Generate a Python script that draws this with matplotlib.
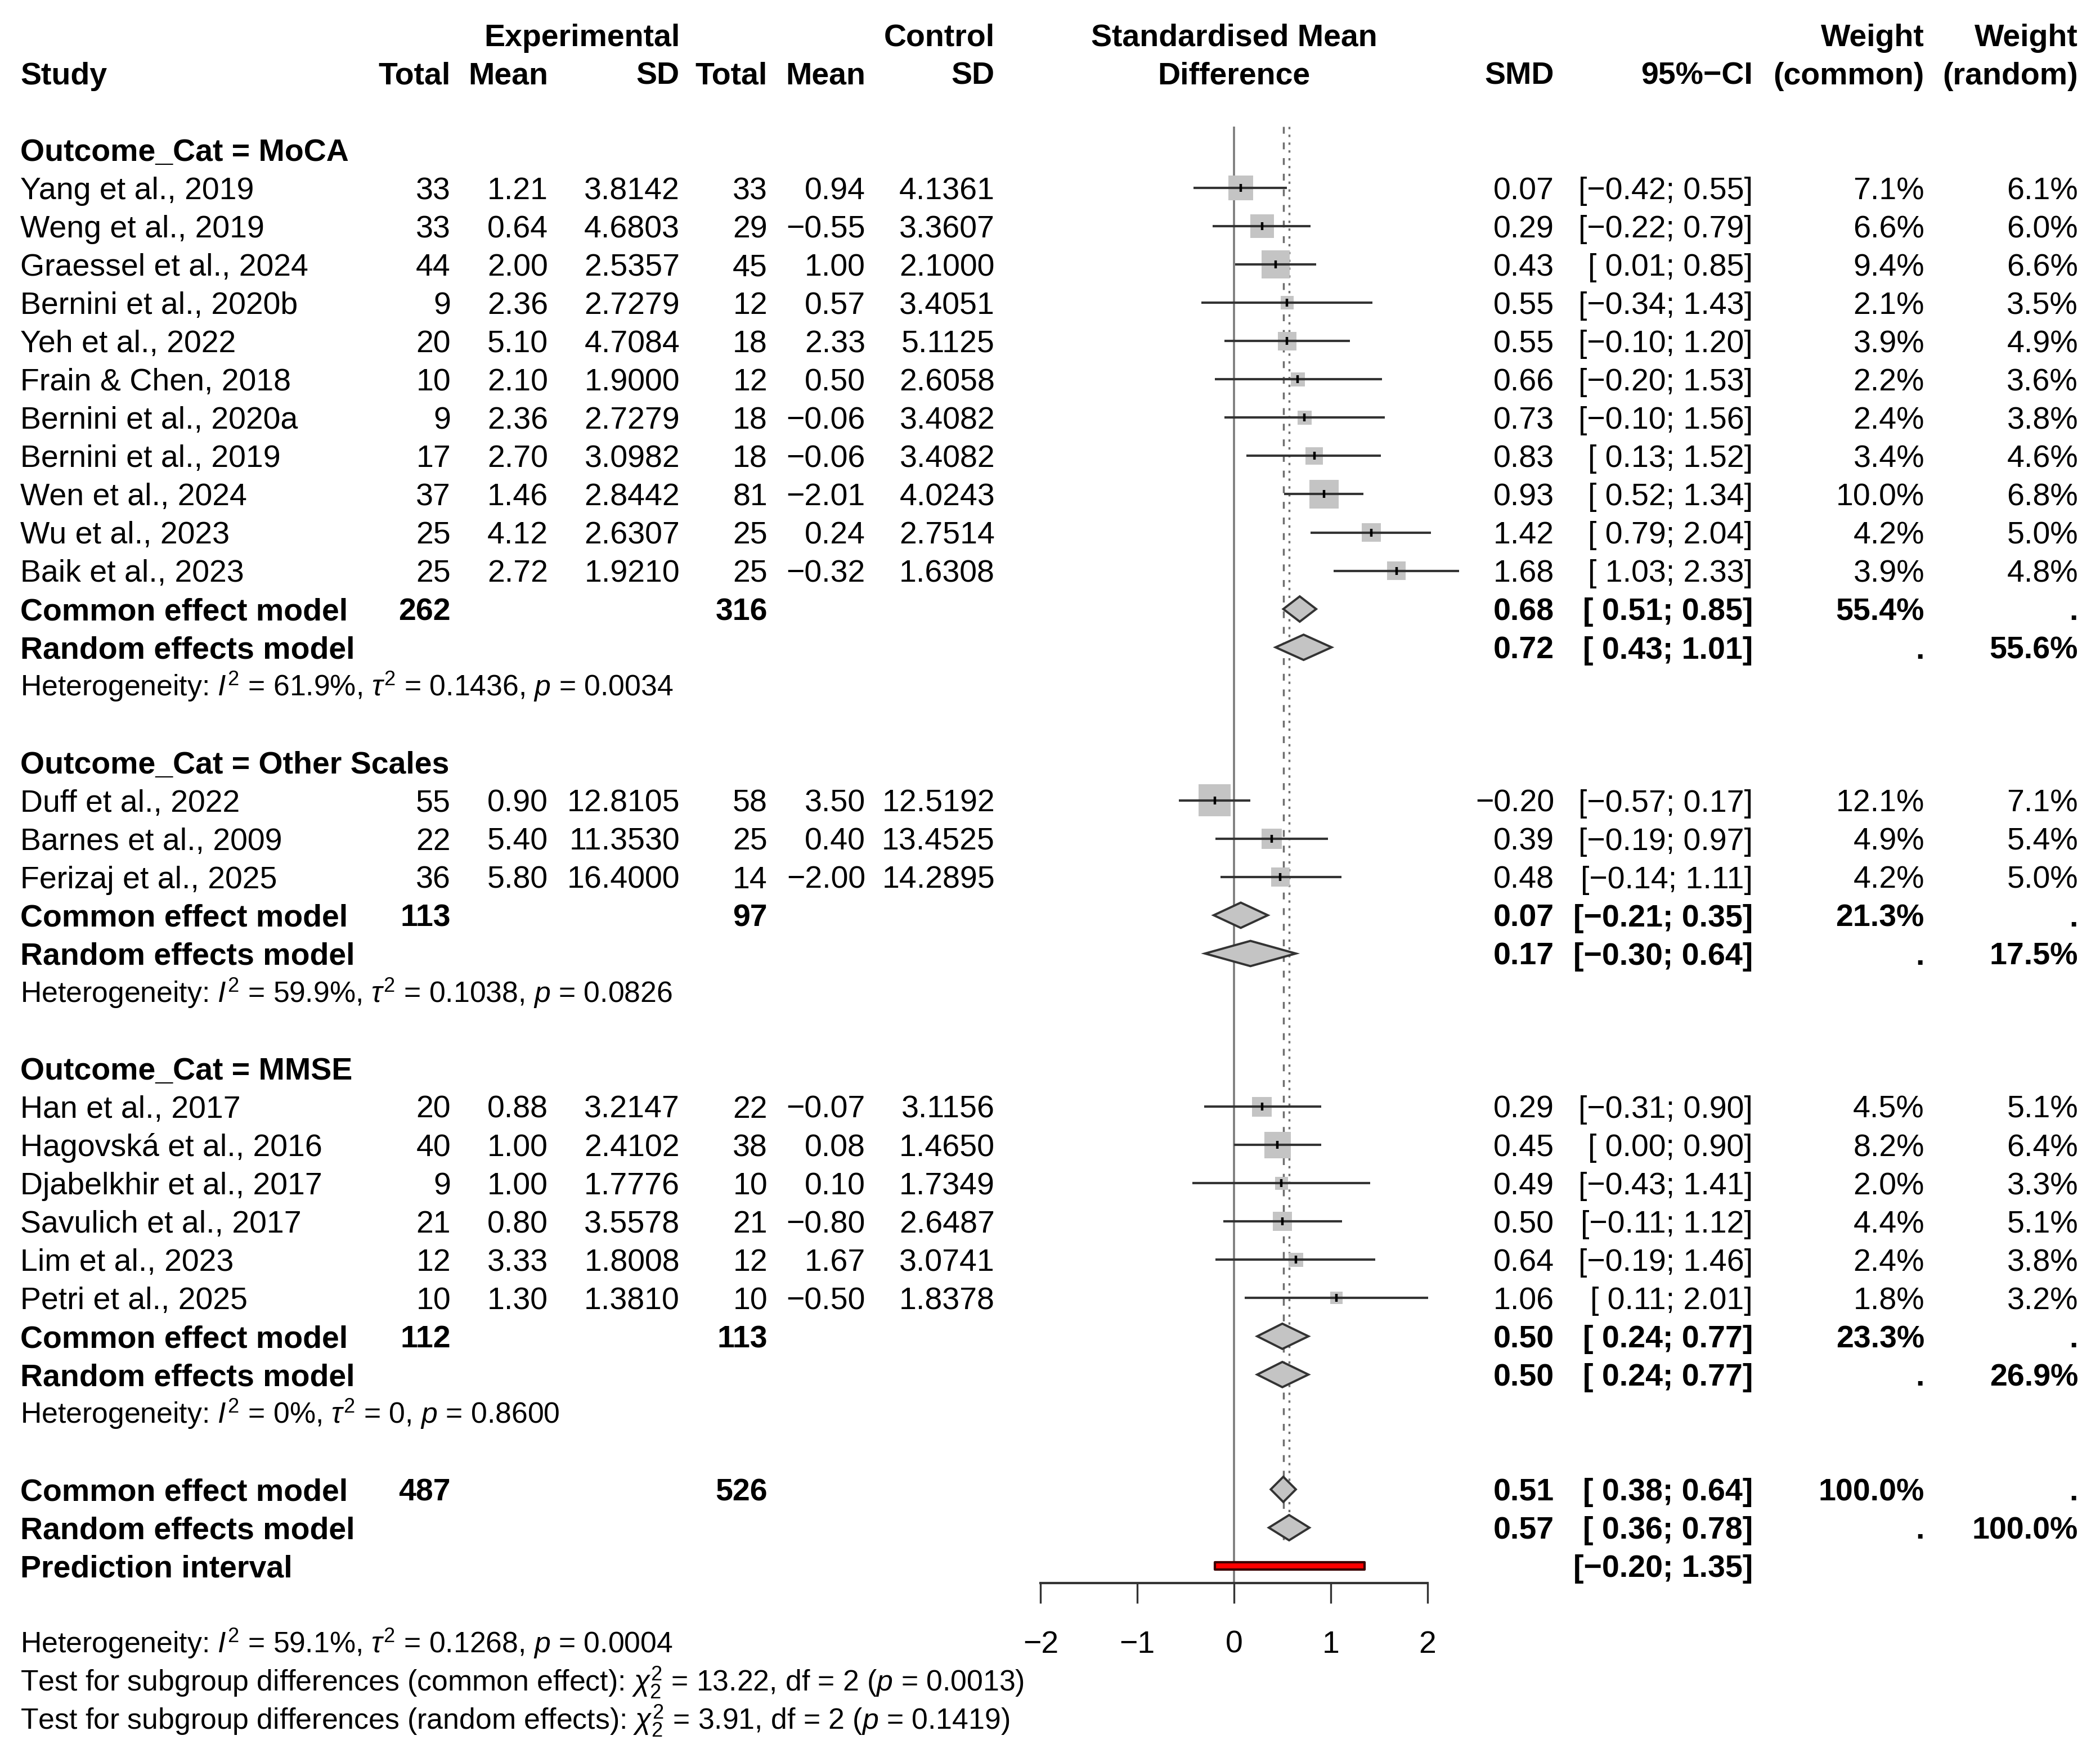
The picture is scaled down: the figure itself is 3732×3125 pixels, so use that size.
import matplotlib.pyplot as plt
from matplotlib.patches import Rectangle, Polygon
import numpy as np

plt.rcParams["font.family"] = ["Liberation Sans", "DejaVu Sans"]
plt.rcParams["mathtext.fontset"] = "custom"
plt.rcParams["mathtext.rm"] = "Liberation Sans"
plt.rcParams["mathtext.it"] = "Liberation Sans:italic"
plt.rcParams["mathtext.bf"] = "Liberation Sans:bold"

# ---- data -----------------------------------------------------------------
groups = ["MoCA", "Other Scales", "MMSE"]
study_group = [0] * 11 + [1] * 3 + [2] * 6
studies = [
    "Yang et al., 2019", "Weng et al., 2019", "Graessel et al., 2024",
    "Bernini et al., 2020b", "Yeh et al., 2022", "Frain & Chen, 2018",
    "Bernini et al., 2020a", "Bernini et al., 2019", "Wen et al., 2024",
    "Wu et al., 2023", "Baik et al., 2023",
    "Duff et al., 2022", "Barnes et al., 2009", "Ferizaj et al., 2025",
    "Han et al., 2017", "Hagovská et al., 2016", "Djabelkhir et al., 2017",
    "Savulich et al., 2017", "Lim et al., 2023", "Petri et al., 2025",
]
exp_n = [33, 33, 44, 9, 20, 10, 9, 17, 37, 25, 25, 55, 22, 36, 20, 40, 9, 21, 12, 10]
exp_mean = [1.21, 0.64, 2.00, 2.36, 5.10, 2.10, 2.36, 2.70, 1.46, 4.12, 2.72,
            0.90, 5.40, 5.80, 0.88, 1.00, 1.00, 0.80, 3.33, 1.30]
exp_sd = [3.8142, 4.6803, 2.5357, 2.7279, 4.7084, 1.9000, 2.7279, 3.0982, 2.8442,
          2.6307, 1.9210, 12.8105, 11.3530, 16.4000, 3.2147, 2.4102, 1.7776,
          3.5578, 1.8008, 1.3810]
ctl_n = [33, 29, 45, 12, 18, 12, 18, 18, 81, 25, 25, 58, 25, 14, 22, 38, 10, 21, 12, 10]
ctl_mean = [0.94, -0.55, 1.00, 0.57, 2.33, 0.50, -0.06, -0.06, -2.01, 0.24, -0.32,
            3.50, 0.40, -2.00, -0.07, 0.08, 0.10, -0.80, 1.67, -0.50]
ctl_sd = [4.1361, 3.3607, 2.1000, 3.4051, 5.1125, 2.6058, 3.4082, 3.4082, 4.0243,
          2.7514, 1.6308, 12.5192, 13.4525, 14.2895, 3.1156, 1.4650, 1.7349,
          2.6487, 3.0741, 1.8378]
smd = [0.07, 0.29, 0.43, 0.55, 0.55, 0.66, 0.73, 0.83, 0.93, 1.42, 1.68,
       -0.20, 0.39, 0.48, 0.29, 0.45, 0.49, 0.50, 0.64, 1.06]
ci_lo = [-0.42, -0.22, 0.01, -0.34, -0.10, -0.20, -0.10, 0.13, 0.52, 0.79, 1.03,
         -0.57, -0.19, -0.14, -0.31, 0.00, -0.43, -0.11, -0.19, 0.11]
ci_hi = [0.55, 0.79, 0.85, 1.43, 1.20, 1.53, 1.56, 1.52, 1.34, 2.04, 2.33,
         0.17, 0.97, 1.11, 0.90, 0.90, 1.41, 1.12, 1.46, 2.01]
w_common = [7.1, 6.6, 9.4, 2.1, 3.9, 2.2, 2.4, 3.4, 10.0, 4.2, 3.9,
            12.1, 4.9, 4.2, 4.5, 8.2, 2.0, 4.4, 2.4, 1.8]
w_random = [6.1, 6.0, 6.6, 3.5, 4.9, 3.6, 3.8, 4.6, 6.8, 5.0, 4.8,
            7.1, 5.4, 5.0, 5.1, 6.4, 3.3, 5.1, 3.8, 3.2]

grp_exp_n = [262, 113, 112]
grp_ctl_n = [316, 97, 113]
grp_common = [0.68, 0.07, 0.50]
grp_common_lo = [0.51, -0.21, 0.24]
grp_common_hi = [0.85, 0.35, 0.77]
grp_random = [0.72, 0.17, 0.50]
grp_random_lo = [0.43, -0.30, 0.24]
grp_random_hi = [1.01, 0.64, 0.77]
grp_w_common = [55.4, 21.3, 23.3]
grp_w_random = [55.6, 17.5, 26.9]
grp_i2 = ["61.9%", "59.9%", "0%"]
grp_tau2 = ["0.1436", "0.1038", "0"]
grp_p = ["0.0034", "0.0826", "0.8600"]

all_exp_n, all_ctl_n = 487, 526
all_common, all_common_lo, all_common_hi = 0.51, 0.38, 0.64
all_random, all_random_lo, all_random_hi = 0.57, 0.36, 0.78
pred_lo, pred_hi = -0.20, 1.35
all_i2, all_tau2, all_p = "59.1%", "0.1268", "0.0004"
test_chi2 = ["13.22", "3.91"]
test_p = ["0.0013", "0.1419"]

# ---- layout (pixels of the 3732 x 3125 canvas) -----------------------------
W, H = 3732, 3125
ROW0, ROW_H = 62, 68.04
X0, UNIT = 2193, 171.8
COL_STUDY = 36
COL_EN, COL_EM, COL_ESD = 801, 974, 1208
COL_CN, COL_CM, COL_CSD = 1364, 1538, 1768
COL_SMD, COL_CI, COL_WC, COL_WR = 2762, 3115, 3420, 3693
FS, FS_SMALL = 40, 37.3
BASE = 0.292         # baseline offset (rows) so digits are centred on the row
BOX_K = 16.4         # box side in px per sqrt(weight %)
GREY = "#C4C4C4"
LINE = "#333333"


def fmt(v, nd=2):
    return f"{v:.{nd}f}".replace("-", "\u2212")


def fmt_ci(lo, hi):
    left = fmt(lo) if lo < 0 else " " + fmt(lo)
    return f"[{left}; {fmt(hi)}]"


def row_frac(r):
    return 1 - (ROW0 + r * ROW_H) / H


fig = plt.figure(figsize=(W / 100, H / 100), dpi=100)
tax = fig.add_axes([0, 0, 1, 1])
tax.set_xlim(0, W)
tax.set_ylim((H - ROW0) / ROW_H, -ROW0 / ROW_H)
tax.axis("off")

top_row, axis_row = 2.4, 40.45
fax = fig.add_axes([(X0 - 2 * UNIT) / W, row_frac(axis_row),
                    4 * UNIT / W, row_frac(top_row) - row_frac(axis_row)])
fax.set_xlim(-2, 2)
fax.set_ylim(axis_row, top_row)
fax.patch.set_alpha(0)
for side in ["top", "left", "right"]:
    fax.spines[side].set_visible(False)
fax.spines["bottom"].set_linewidth(3.0)
fax.spines["bottom"].set_color(LINE)
fax.set_xticks([-2, -1, 0, 1, 2])
fax.set_yticks([])
fax.tick_params(axis="x", length=26, width=2.4, color=LINE, pad=34, labelsize=FS)


def put(x, r, s, ha="right", bold=False, size=FS):
    tax.text(x, r + BASE * size / FS, s, ha=ha, va="baseline", fontsize=size,
             fontweight="bold" if bold else "normal")


def diamond(r, est, lo, hi, h=0.33):
    fax.add_patch(Polygon([[lo, r], [est, r - h], [hi, r], [est, r + h]],
                          closed=True, facecolor=GREY, edgecolor=LINE,
                          linewidth=2.8, clip_on=False, zorder=4))


def het_text(i2, tau2, p):
    return f"Heterogeneity: $I^2$ = {i2}, $\\tau^2$ = {tau2}, $p$ = {p}"


# headers
put(COL_ESD, 0, "Experimental", bold=True)
put(COL_CSD, 0, "Control", bold=True)
put(X0, 0, "Standardised Mean", ha="center", bold=True)
put(COL_WC, 0, "Weight", bold=True)
put(COL_WR, 0, "Weight", bold=True)
put(COL_STUDY, 1, "Study", ha="left", bold=True)
for x, s in [(COL_EN, "Total"), (COL_EM, "Mean"), (COL_ESD, "SD"),
             (COL_CN, "Total"), (COL_CM, "Mean"), (COL_CSD, "SD"),
             (COL_SMD, "SMD"), (COL_CI, "95%\u2212CI"),
             (COL_WC, "(common)"), (COL_WR, "(random)")]:
    put(x, 1, s, bold=True)
put(X0, 1, "Difference", ha="center", bold=True)

row = 3
for g, gname in enumerate(groups):
    put(COL_STUDY, row, f"Outcome_Cat = {gname}", ha="left", bold=True)
    row += 1
    for i in [k for k, sg in enumerate(study_group) if sg == g]:
        put(COL_STUDY, row, studies[i], ha="left")
        put(COL_EN, row, str(exp_n[i]))
        put(COL_EM, row, fmt(exp_mean[i]))
        put(COL_ESD, row, fmt(exp_sd[i], 4))
        put(COL_CN, row, str(ctl_n[i]))
        put(COL_CM, row, fmt(ctl_mean[i]))
        put(COL_CSD, row, fmt(ctl_sd[i], 4))
        put(COL_SMD, row, fmt(smd[i]))
        put(COL_CI, row, fmt_ci(ci_lo[i], ci_hi[i]))
        put(COL_WC, row, f"{w_common[i]:.1f}%")
        put(COL_WR, row, f"{w_random[i]:.1f}%")
        side = BOX_K * np.sqrt(w_common[i])
        bw, bh = side / UNIT, side / ROW_H
        fax.add_patch(Rectangle((smd[i] - bw / 2, row - bh / 2), bw, bh,
                                facecolor=GREY, edgecolor="none", clip_on=False, zorder=2))
        fax.hlines(row, ci_lo[i], ci_hi[i], color=LINE, linewidth=3.0,
                   clip_on=False, zorder=3)
        fax.plot(smd[i], row, marker="|", markersize=10, mew=3.2, color="black",
                 clip_on=False, zorder=3)
        row += 1
    put(COL_STUDY, row, "Common effect model", ha="left", bold=True)
    put(COL_EN, row, str(grp_exp_n[g]), bold=True)
    put(COL_CN, row, str(grp_ctl_n[g]), bold=True)
    put(COL_SMD, row, fmt(grp_common[g]), bold=True)
    put(COL_CI, row, fmt_ci(grp_common_lo[g], grp_common_hi[g]), bold=True)
    put(COL_WC, row, f"{grp_w_common[g]:.1f}%", bold=True)
    put(COL_WR, row, ".", bold=True)
    diamond(row, grp_common[g], grp_common_lo[g], grp_common_hi[g])
    row += 1
    put(COL_STUDY, row, "Random effects model", ha="left", bold=True)
    put(COL_SMD, row, fmt(grp_random[g]), bold=True)
    put(COL_CI, row, fmt_ci(grp_random_lo[g], grp_random_hi[g]), bold=True)
    put(COL_WC, row, ".", bold=True)
    put(COL_WR, row, f"{grp_w_random[g]:.1f}%", bold=True)
    diamond(row, grp_random[g], grp_random_lo[g], grp_random_hi[g])
    row += 1
    put(COL_STUDY, row, het_text(grp_i2[g], grp_tau2[g], grp_p[g]),
        ha="left", size=FS_SMALL)
    row += 2

# overall
put(COL_STUDY, row, "Common effect model", ha="left", bold=True)
put(COL_EN, row, str(all_exp_n), bold=True)
put(COL_CN, row, str(all_ctl_n), bold=True)
put(COL_SMD, row, fmt(all_common), bold=True)
put(COL_CI, row, fmt_ci(all_common_lo, all_common_hi), bold=True)
put(COL_WC, row, "100.0%", bold=True)
put(COL_WR, row, ".", bold=True)
diamond(row, all_common, all_common_lo, all_common_hi)
row += 1
put(COL_STUDY, row, "Random effects model", ha="left", bold=True)
put(COL_SMD, row, fmt(all_random), bold=True)
put(COL_CI, row, fmt_ci(all_random_lo, all_random_hi), bold=True)
put(COL_WC, row, ".", bold=True)
put(COL_WR, row, "100.0%", bold=True)
diamond(row, all_random, all_random_lo, all_random_hi)
random_row = row
row += 1
put(COL_STUDY, row, "Prediction interval", ha="left", bold=True)
put(COL_CI, row, fmt_ci(pred_lo, pred_hi), bold=True)
fax.add_patch(Rectangle((pred_lo, row - 0.1), pred_hi - pred_lo, 0.2,
                        facecolor="#FF0000", edgecolor="#3A0000", linewidth=3.0,
                        joinstyle="round", clip_on=False, zorder=4))
row += 2
put(COL_STUDY, row, het_text(all_i2, all_tau2, all_p), ha="left", size=FS_SMALL)
put(COL_STUDY, row + 1,
    f"Test for subgroup differences (common effect): $\\chi^2_2$ = {test_chi2[0]}, "
    f"df = 2 ($p$ = {test_p[0]})", ha="left", size=FS_SMALL)
put(COL_STUDY, row + 2,
    f"Test for subgroup differences (random effects): $\\chi^2_2$ = {test_chi2[1]}, "
    f"df = 2 ($p$ = {test_p[1]})", ha="left", size=FS_SMALL)

# reference lines
fax.axvline(0, color="#7A7A7A", linewidth=2.6, zorder=1)
fax.vlines(all_common, top_row, random_row + 0.35, color="#707070", linewidth=2.5,
           linestyles=(0, (3.5, 4.5)), zorder=1)
fax.vlines(all_random, top_row, random_row + 0.35, color="#707070", linewidth=2.5,
           linestyles=(0, (1.2, 2.8)), zorder=1)

fig.savefig("out.png", dpi=100)
